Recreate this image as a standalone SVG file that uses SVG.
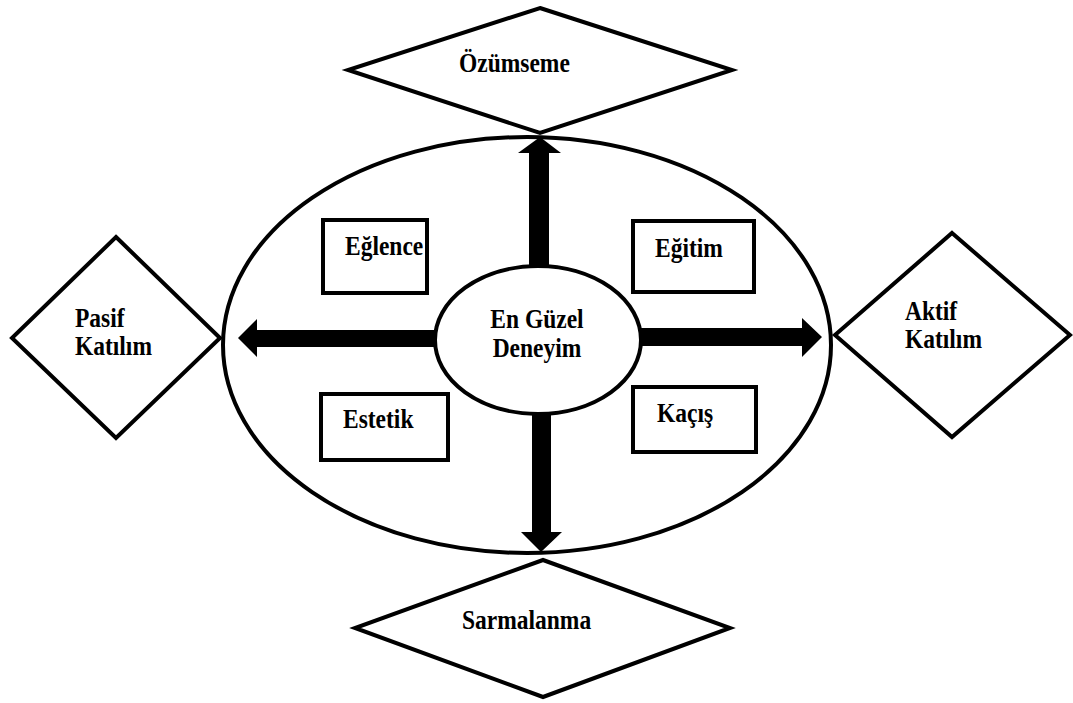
<svg xmlns="http://www.w3.org/2000/svg" width="1073" height="703" viewBox="0 0 1073 703">
  <style>
    .shape { fill: #ffffff; stroke: #000000; stroke-width: 4; }
    .arrow { fill: #000000; stroke: none; }
    .label { font-family: "Liberation Serif", "Times New Roman", serif; font-weight: bold; font-size: 27px; fill: #000000; }
    .mid { text-anchor: middle; }
  </style>
  <rect width="1073" height="703" fill="#ffffff"/>

  <g id="outer-ellipse">
    <ellipse class="shape" cx="527" cy="345" rx="304" ry="208"/>
  </g>

  <!-- labels are set in a narrowed serif: matrix(0.87 0 0 1 x y) -->
  <g id="box-eglence">
    <rect class="shape" x="323" y="220" width="104" height="73"/>
    <text class="label" transform="matrix(0.87 0 0 1 345 255)">Eğlence</text>
  </g>
  <g id="box-egitim">
    <rect class="shape" x="633" y="221" width="121" height="71"/>
    <text class="label" transform="matrix(0.87 0 0 1 655 257)">Eğitim</text>
  </g>
  <g id="box-estetik">
    <rect class="shape" x="321" y="394" width="127" height="66"/>
    <text class="label" transform="matrix(0.87 0 0 1 343 428)">Estetik</text>
  </g>
  <g id="box-kacis">
    <rect class="shape" x="633" y="387" width="123" height="65"/>
    <text class="label" transform="matrix(0.87 0 0 1 657 422)">Kaçış</text>
  </g>

  <g id="connectors">
    <polygon class="arrow" points="238,338 257,319 257,330 440,330 440,347 257,347 257,357"/>
    <polygon class="arrow" points="822,337 802,318 802,328 630,328 630,346 802,346 802,357"/>
    <polygon class="arrow" points="540,137 561,153 549,153 549,280 529,280 529,153 518,153"/>
    <polygon class="arrow" points="541,552 562,532 551,532 551,400 532,400 532,532 521,532"/>
  </g>

  <g id="center">
    <ellipse class="shape" cx="538" cy="340" rx="103" ry="74"/>
    <text class="label mid" transform="matrix(0.87 0 0 1 537 328)">En Güzel</text>
    <text class="label mid" transform="matrix(0.87 0 0 1 537 357)">Deneyim</text>
  </g>

  <g id="diamond-ozumseme">
    <polygon class="shape" points="540,8 732,70 540,133 348,70"/>
    <text class="label" transform="matrix(0.87 0 0 1 459 72)">Özümseme</text>
  </g>
  <g id="diamond-pasif">
    <polygon class="shape" points="116,237 220,338 116,438 12,338"/>
    <text class="label" transform="matrix(0.87 0 0 1 75 327)">Pasif</text>
    <text class="label" transform="matrix(0.87 0 0 1 75 355)">Katılım</text>
  </g>
  <g id="diamond-aktif">
    <polygon class="shape" points="952,233 1070,335 952,437 835,335"/>
    <text class="label" transform="matrix(0.87 0 0 1 905 320)">Aktif</text>
    <text class="label" transform="matrix(0.87 0 0 1 905 348)">Katılım</text>
  </g>
  <g id="diamond-sarmalanma">
    <polygon class="shape" points="543,560 730,628 543,697 355,628"/>
    <text class="label" transform="matrix(0.87 0 0 1 462 629)">Sarmalanma</text>
  </g>
</svg>
